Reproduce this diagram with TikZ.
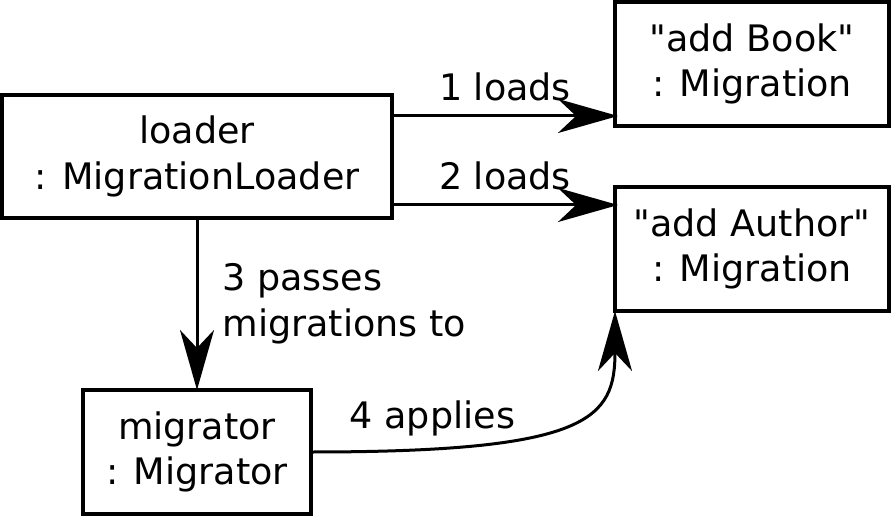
\documentclass[tikz,border=0pt]{standalone}
\usepackage{fontspec}
\setmainfont{DejaVu Sans}
\usetikzlibrary{arrows.meta}

\begin{document}
\begin{tikzpicture}[x=1pt,y=1pt,
    font=\fontsize{36.5}{45.5}\selectfont,
    object/.style={draw,line width=4pt,align=center,minimum height=124pt,inner sep=0pt,outer sep=0pt},
    msg/.style={line width=3pt,-{Stealth[length=60pt,width=34pt,inset=18pt]}},
    lbl/.style={inner sep=0pt}]
    \useasboundingbox (0,0) rectangle (891,517);

    \node[object,minimum width=390pt,minimum height=123pt] (loader) at (197,360.5) {loader\\: MigrationLoader};
    \node[object,minimum width=274pt] (book) at (752,453) {\textquotedbl add Book\textquotedbl\\: Migration};
    \node[object,minimum width=274pt] (author) at (752,268) {\textquotedbl add Author\textquotedbl\\: Migration};
    \node[object,minimum width=228pt] (migrator) at (197,65) {migrator\\: Migrator};

    \draw[msg] ([yshift=-21pt]loader.north east) -- ([yshift=-21pt,xshift=3pt]loader.north east -| book.west)
        node[lbl,midway,above=13pt] {1 loads};
    \draw[msg] ([yshift=13pt]loader.south east) -- ([yshift=13pt,xshift=3pt]loader.south east -| author.west)
        node[lbl,midway,above=13pt] {2 loads};
    \draw[msg] (loader.south) -- (migrator.north)
        node[lbl,midway,right=24pt,align=left] {3 passes\\migrations to};
    \draw[msg] (migrator.east) .. controls +(279,0) and +(0,-108) .. (author.south west)
        node[lbl,pos=0.17,above=11pt] {4 applies};
\end{tikzpicture}
\end{document}
